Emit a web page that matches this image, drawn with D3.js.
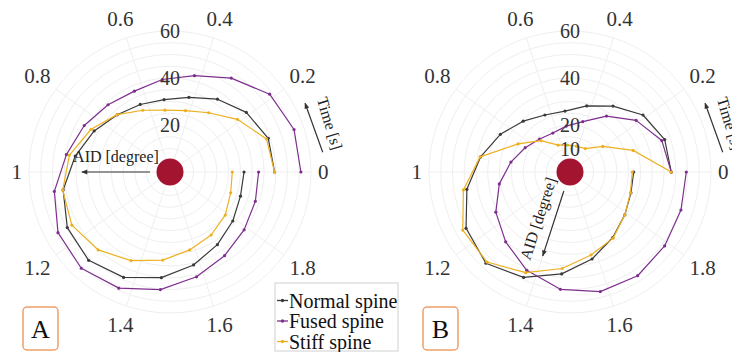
<!DOCTYPE html>
<html>
<head>
<meta charset="utf-8">
<script src="https://cdn.jsdelivr.net/npm/d3@7"></script>
<style>
  body { margin: 0; background: #fff; }
  svg { display: block; font-family: "Liberation Serif", "Times New Roman", serif; }
</style>
</head>
<body>
<div id="chart"></div>
<script>
// time samples over one cycle [s]
const times = [0, 0.105, 0.211, 0.316, 0.421, 0.526, 0.632, 0.737, 0.842, 0.947,
               1.053, 1.158, 1.263, 1.368, 1.474, 1.579, 1.684, 1.789, 1.895, 2.0];

// AID [degree], panel A
const normalA = [44.5, 44.2, 41.2, 37.0, 32.8, 30.9, 31.4, 33.1, 36.7, 40.9,
                 46.1, 49.7, 51.1, 49.0, 45.1, 40.8, 36.9, 33.9, 31.7, 31.5];
const fusedA  = [55.7, 55.8, 53.8, 47.7, 42.3, 39.5, 37.6, 38.9, 41.5, 44.7,
                 49.9, 54.2, 55.7, 54.0, 50.2, 46.0, 42.5, 40.0, 38.4, 37.7];
const stiffA  = [44.5, 43.4, 36.4, 30.1, 26.9, 26.4, 28.7, 33.2, 38.2, 43.4,
                 46.3, 47.5, 45.1, 41.2, 37.6, 34.2, 32.0, 29.8, 27.3, 26.5];

// AID [degree], panel B
const normalB = [43.1, 42.6, 39.4, 33.5, 29.0, 26.0, 26.5, 29.4, 33.7, 38.6,
                 44.5, 50.3, 52.8, 49.0, 43.5, 38.2, 33.3, 29.6, 27.4, 27.1];
const fusedB  = [43.1, 41.3, 35.7, 28.4, 22.1, 19.6, 18.1, 19.1, 21.7, 25.5,
                 30.5, 35.9, 40.4, 45.7, 50.1, 52.5, 52.7, 51.1, 49.9, 49.5];
const stiffB  = [43.1, 28.4, 17.7, 11.9, 11.3, 11.5, 12.5, 18.2, 25.1, 38.8,
                 46.0, 51.9, 52.1, 46.8, 41.2, 36.4, 33.6, 29.6, 27.2, 26.5];

// axes
const thetaTicks  = [0, 0.2, 0.4, 0.6, 0.8, 1, 1.2, 1.4, 1.6, 1.8];
const thetaLabels = ["0", "0.2", "0.4", "0.6", "0.8", "1", "1.2", "1.4", "1.6", "1.8"];
const ringValues  = [5, 10, 15, 20, 25, 30, 35, 40, 45, 50, 55, 60];
const rLabelsA = [20, 40, 60];
const rLabelsB = [10, 20, 40, 60];

const seriesNames  = ["Normal spine", "Fused spine", "Stiff spine"];
const seriesColors = ["#3a3a3a", "#7E2F8E", "#EDB120"];

const width = 732, height = 352;
const outerR = 141;

const svg = d3.select("#chart").append("svg")
    .attr("width", width)
    .attr("height", height);

svg.append("rect").attr("width", width).attr("height", height).attr("fill", "#fff");

// arrowhead
svg.append("defs").append("marker")
    .attr("id", "arrow")
    .attr("viewBox", "0 0 10 10")
    .attr("refX", 9).attr("refY", 5)
    .attr("markerWidth", 7).attr("markerHeight", 6)
    .attr("markerUnits", "userSpaceOnUse")
    .attr("orient", "auto")
  .append("path")
    .attr("d", "M0,1 L10,5 L0,9 Z")
    .attr("fill", "#333");

// time -> angle (d3 radial angle: clockwise from 12 o'clock), 0 s at 3 o'clock, ccw
const scAngle = d3.scaleLinear().domain([0, 2]).range([Math.PI / 2, Math.PI / 2 - 2 * Math.PI]);
const scR = d3.scaleLinear().domain([0, 60]).range([0, outerR]);

function drawPanel(cx, cy, series, rLabels, letter, aidT) {
    const g = svg.append("g").attr("transform", `translate(${cx},${cy})`);

    // grid
    g.selectAll(null).data(ringValues).join("circle")
        .attr("r", d => scR(d))
        .attr("fill", "none")
        .attr("stroke", "#efefef")
        .attr("stroke-width", 1);

    g.selectAll(null).data(thetaTicks).join("line")
        .attr("x1", 0).attr("y1", 0)
        .attr("x2", d => d3.pointRadial(scAngle(d), outerR)[0])
        .attr("y2", d => d3.pointRadial(scAngle(d), outerR)[1])
        .attr("stroke", "#efefef")
        .attr("stroke-width", 1);

    // theta tick labels, pushed out by their own size
    g.selectAll(null).data(thetaTicks).join("text")
        .text((d, i) => thetaLabels[i])
        .attr("font-size", 21)
        .attr("fill", "#333")
        .attr("text-anchor", "middle")
        .attr("dominant-baseline", "central")
        .each(function(d) {
            const w = this.getComputedTextLength();
            const a = scAngle(d);
            const r = outerR + 7 + Math.abs(Math.sin(a)) * w / 2 + Math.abs(Math.cos(a)) * 9;
            const p = d3.pointRadial(a, r);
            d3.select(this).attr("x", p[0]).attr("y", p[1]);
        });

    // series
    const line = d3.lineRadial()
        .angle(d => scAngle(d[0]))
        .radius(d => scR(d[1]));

    series.forEach((vals, i) => {
        const pts = times.map((t, j) => [t, vals[j]]);
        g.append("path").datum(pts)
            .attr("d", line)
            .attr("fill", "none")
            .attr("stroke", seriesColors[i])
            .attr("stroke-width", 1.2)
            .attr("stroke-linejoin", "round");
        g.selectAll(null).data(pts).join("circle")
            .attr("cx", d => d3.pointRadial(scAngle(d[0]), scR(d[1]))[0])
            .attr("cy", d => d3.pointRadial(scAngle(d[0]), scR(d[1]))[1])
            .attr("r", 1.6)
            .attr("fill", seriesColors[i]);
    });

    // radial tick labels on the 90 deg spoke
    g.selectAll(null).data(rLabels).join("text")
        .text(d => d)
        .attr("x", 0)
        .attr("y", d => -scR(d))
        .attr("font-size", 20)
        .attr("fill", "#333")
        .attr("text-anchor", "middle")
        .attr("dominant-baseline", "central");

    // origin marker
    g.append("circle").attr("r", 13.5).attr("fill", "#A2142F");

    // AID axis label along a spoke, arrow pointing outwards
    const aa = scAngle(aidT);
    const u = d3.pointRadial(aa, 1);            // outward unit vector
    const dir = [-u[0], -u[1]];                 // reading direction
    const up = [dir[1], -dir[0]];
    const a0 = d3.pointRadial(aa, scR(8.5)), a1 = d3.pointRadial(aa, scR(37.5));
    g.append("line")
        .attr("x1", a0[0]).attr("y1", a0[1])
        .attr("x2", a1[0]).attr("y2", a1[1])
        .attr("stroke", "#333").attr("stroke-width", 1.2)
        .attr("marker-end", "url(#arrow)");
    const tc = d3.pointRadial(aa, scR(23));
    const tx = tc[0] + up[0] * 16, ty = tc[1] + up[1] * 16;
    g.append("text")
        .text("AID [degree]")
        .attr("font-size", 16)
        .attr("fill", "#222")
        .attr("text-anchor", "middle")
        .attr("dominant-baseline", "central")
        .attr("transform", `translate(${tx},${ty}) rotate(${Math.atan2(dir[1], dir[0]) * 180 / Math.PI})`);

    // Time axis label, tangent near 0.1 s
    const t0 = d3.pointRadial(scAngle(0.041), 154), t1 = d3.pointRadial(scAngle(0.15), 151.6);
    g.append("line")
        .attr("x1", t0[0]).attr("y1", t0[1])
        .attr("x2", t1[0]).attr("y2", t1[1])
        .attr("stroke", "#333").attr("stroke-width", 1.2)
        .attr("marker-end", "url(#arrow)");
    const tl = d3.pointRadial(scAngle(0.094), 167);
    g.append("text")
        .text("Time [s]")
        .attr("font-size", 16)
        .attr("fill", "#222")
        .attr("text-anchor", "middle")
        .attr("dominant-baseline", "central")
        .attr("transform", `translate(${tl[0]},${tl[1]}) rotate(${90 - 0.094 * 180})`);

    // panel letter
    const lx = cx - 147, ly = 307;
    svg.append("rect")
        .attr("x", lx).attr("y", ly)
        .attr("width", 35).attr("height", 43)
        .attr("rx", 4)
        .attr("fill", "#fff")
        .attr("stroke", "#F0A06A")
        .attr("stroke-width", 1.5);
    svg.append("text")
        .text(letter)
        .attr("x", lx + 17.5).attr("y", ly + 22)
        .attr("font-size", 26)
        .attr("fill", "#111")
        .attr("text-anchor", "middle")
        .attr("dominant-baseline", "central");
}

drawPanel(170, 172, [normalA, fusedA, stiffA], rLabelsA, "A", 1.0);
drawPanel(570, 172, [normalB, fusedB, stiffB], rLabelsB, "B", 1.4);

// legend
const lg = svg.append("g").attr("transform", "translate(275,283)");
lg.append("rect")
    .attr("width", 123).attr("height", 68)
    .attr("fill", "#fff")
    .attr("stroke", "#d0d0d0");
seriesNames.forEach((name, i) => {
    const y = 17.5 + i * 20.5;
    lg.append("line")
        .attr("x1", 2).attr("x2", 13)
        .attr("y1", y).attr("y2", y)
        .attr("stroke", seriesColors[i]).attr("stroke-width", 1.3);
    lg.append("circle").attr("cx", 7.5).attr("cy", y).attr("r", 1.7).attr("fill", seriesColors[i]);
    lg.append("text")
        .text(name)
        .attr("x", 14).attr("y", y)
        .attr("font-size", 20)
        .attr("fill", "#111")
        .attr("dominant-baseline", "central");
});
</script>
</body>
</html>
